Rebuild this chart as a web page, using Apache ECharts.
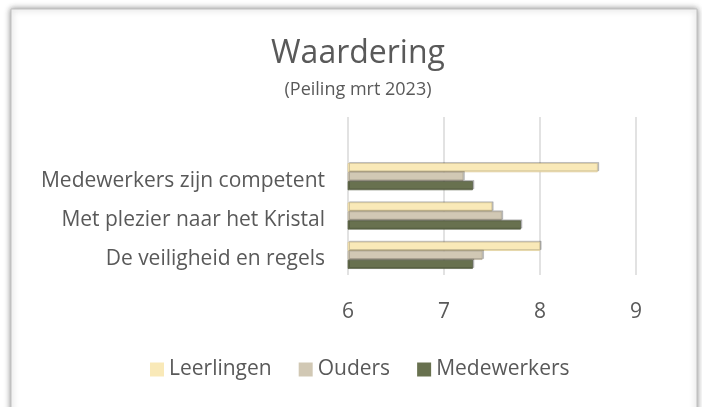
<!DOCTYPE html>
<html><head><meta charset="utf-8">
<script src="https://cdn.jsdelivr.net/npm/echarts@6/dist/echarts.min.js"></script>
<style>html,body{margin:0;padding:0;background:#fff}#c{width:702px;height:407px}</style>
</head><body><div id="c"></div>
<script>
const categories = ["Medewerkers zijn competent", "Met plezier naar het Kristal", "De veiligheid en regels"];
const seriesNames = ["Leerlingen", "Ouders", "Medewerkers"];
const leerlingen = [8.6, 7.5, 8.0];
const ouders = [7.2, 7.6, 7.4];
const medewerkers = [7.3, 7.8, 7.3];
const titleText = "Waardering";
const subtitleText = "(Peiling mrt 2023)";
const colors = ["#F9E9B8", "#D1C8B4", "#68714F"];
const edgeColors = ["#D6C58C", "#B0A690", "#4A5238"];
const FONT = "Open Sans";
const values = [leerlingen, ouders, medewerkers];

const chart = echarts.init(document.getElementById('c'), null, {renderer: 'canvas'});
chart.setOption({
  animation: false,
  textStyle: {fontFamily: FONT},
  graphic: [
    {type: 'rect', z: -10, silent: true,
     shape: {x: 11, y: 9, width: 686, height: 420},
     style: {fill: '#fff', stroke: '#bfbfbf', lineWidth: 1, shadowBlur: 6, shadowColor: 'rgba(0,0,0,0.45)'}},
    {type: 'text', x: 358, y: 54, silent: true,
     style: {text: titleText, fill: '#595959', font: '32px "Open Sans"', textAlign: 'center', textVerticalAlign: 'middle'}},
    {type: 'text', x: 358, y: 90, silent: true,
     style: {text: subtitleText, fill: '#595959', font: '18px "Open Sans"', textAlign: 'center', textVerticalAlign: 'middle'}}
  ],
  legend: {
    data: seriesNames, top: 354, left: 145, itemWidth: 14, itemHeight: 14, itemGap: 27,
    icon: 'rect', itemStyle: {borderWidth: 0, shadowBlur: 0, shadowOffsetX: 0, shadowOffsetY: 0},
    textStyle: {fontFamily: FONT, fontSize: 21, color: '#595959'}
  },
  grid: [
    {left: 348, width: 288, top: 117, height: 158},
    {left: 348, width: 288, top: 157, height: 118},
    {left: 348, width: 288, top: 161, height: 118}
  ],
  xAxis: [
    {gridIndex: 0, type: 'value', min: 6, max: 9, interval: 1,
     axisLine: {show: false}, axisTick: {show: false},
     splitLine: {lineStyle: {color: '#d9d9d9', width: 1.5}},
     axisLabel: {fontFamily: FONT, fontSize: 21, color: '#595959', margin: 27}},
    {gridIndex: 1, type: 'value', min: 6, max: 9, interval: 1, show: false, splitLine: {show: false}},
    {gridIndex: 2, type: 'value', min: 6, max: 9, interval: 1, show: false, splitLine: {show: false}}
  ],
  yAxis: [
    {gridIndex: 0, type: 'category', data: [''], show: false},
    {gridIndex: 1, type: 'category', data: categories, inverse: true, show: false},
    {gridIndex: 2, type: 'category', data: categories, inverse: true,
     axisLine: {show: false}, axisTick: {show: false},
     axisLabel: {fontFamily: FONT, fontSize: 21, color: '#595959', margin: 23}}
  ],
  series: seriesNames.map((n, i) => ({
    name: n, type: 'bar', xAxisIndex: 1, yAxisIndex: 1,
    data: values[i], barWidth: 9, barGap: '0%',
    itemStyle: {color: colors[i], borderColor: edgeColors[i], borderWidth: 0.6,
      shadowColor: 'rgba(0,0,0,0.25)', shadowOffsetX: 1.5, shadowOffsetY: -1, shadowBlur: 0}
  }))
});
</script></body></html>
